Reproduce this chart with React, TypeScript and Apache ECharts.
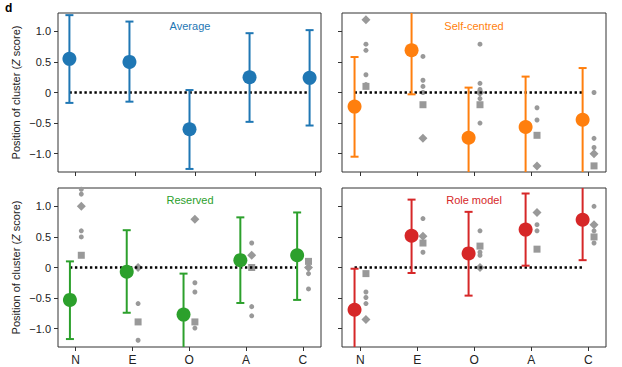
import React, { useEffect, useRef } from "react";
import * as echarts from "echarts";

const categories = ["N", "E", "O", "A", "C"];
const yTicks = [-1, -0.5, 0, 0.5, 1];

// Average
const avgMean = [0.55, 0.5, -0.6, 0.25, 0.24];
const avgLo = [-0.17, -0.15, -1.25, -0.48, -0.54];
const avgHi = [1.265, 1.16, 0.04, 0.97, 1.02];
const avgCircles: number[][] = [];
const avgSquares: number[][] = [];
const avgDiamonds: number[][] = [];

// Self-centred
const selfMean = [-0.23, 0.69, -0.74, -0.565, -0.445];
const selfLo = [-1.05, -0.03, -1.6, -1.6, -1.6];
const selfHi = [0.58, 1.6, 0.08, 0.26, 0.4];
const selfCircles = [
  [0, 0.79], [0, 0.69], [0, 0.29], [0, 0.13],
  [1, 0.59], [1, 0.2], [1, 0.1], [1, 0.0],
  [2, 0.79], [2, 0.15], [2, 0.05], [2, -0.1], [2, -0.5],
  [3, -0.25], [3, -0.45],
  [4, 0.0], [4, -0.75], [4, -0.9],
];
const selfSquares = [[0, 0.1], [1, -0.2], [2, -0.2], [3, -0.7], [4, -1.2]];
const selfDiamonds = [[0, 1.19], [1, -0.75], [2, 0.0], [3, -1.2], [4, -1.0]];

// Reserved
const resMean = [-0.53, -0.07, -0.77, 0.12, 0.2];
const resLo = [-1.17, -0.74, -1.6, -0.58, -0.53];
const resHi = [0.1, 0.61, -0.1, 0.82, 0.9];
const resCircles = [
  [0, 1.28], [0, 1.2], [0, 0.6], [0, 0.5],
  [1, -0.59], [1, -1.19],
  [2, -0.25], [2, -0.4], [2, -0.99],
  [3, 0.4], [3, -0.64], [3, -0.79],
  [4, 0.0], [4, -0.1], [4, -0.35],
];
const resSquares = [[0, 0.2], [1, -0.89], [2, -0.89], [3, 0.0], [4, 0.1]];
const resDiamonds = [[0, 1.0], [1, 0.0], [2, 0.79], [3, 0.2], [4, 0.0]];

// Role model
const roleMean = [-0.69, 0.52, 0.23, 0.62, 0.78];
const roleLo = [-1.6, -0.09, -0.46, 0.03, 0.12];
const roleHi = [-0.02, 1.11, 0.91, 1.21, 1.6];
const roleCircles = [
  [0, -0.4], [0, -0.49], [0, -0.59],
  [1, 0.8], [1, 0.25],
  [2, 0.6], [2, 0.25], [2, 0.2],
  [3, 0.7], [3, 0.6],
  [4, 1.0], [4, 0.6], [4, 0.4],
];
const roleSquares = [[0, -0.1], [1, 0.4], [2, 0.35], [3, 0.3], [4, 0.5]];
const roleDiamonds = [[0, -0.85], [1, 0.51], [2, 0.0], [3, 0.9], [4, 0.7]];

const FONT = "'Liberation Sans', Arial, sans-serif";
const Y_MIN = -1.3;
const Y_MAX = 1.3;
const GREY = "#999999";

const panels = [
  {
    title: "Average", color: "#1f77b4",
    mean: avgMean, lo: avgLo, hi: avgHi,
    circles: avgCircles, squares: avgSquares, diamonds: avgDiamonds,
    grid: { left: 58, top: 13, width: 263, height: 159 },
    xMin: -0.29, xMax: 4.09, showXLabels: false, showYLabels: true,
    tx: 190, ty: 26,
  },
  {
    title: "Self-centred", color: "#ff7f0e",
    mean: selfMean, lo: selfLo, hi: selfHi,
    circles: selfCircles, squares: selfSquares, diamonds: selfDiamonds,
    grid: { left: 342, top: 13, width: 264, height: 159 },
    xMin: -0.32, xMax: 4.31, showXLabels: false, showYLabels: false,
    tx: 474, ty: 26,
  },
  {
    title: "Reserved", color: "#2ca02c",
    mean: resMean, lo: resLo, hi: resHi,
    circles: resCircles, squares: resSquares, diamonds: resDiamonds,
    grid: { left: 58, top: 188, width: 263, height: 159 },
    xMin: -0.31, xMax: 4.32, showXLabels: true, showYLabels: true,
    tx: 190, ty: 200,
  },
  {
    title: "Role model", color: "#d62728",
    mean: roleMean, lo: roleLo, hi: roleHi,
    circles: roleCircles, squares: roleSquares, diamonds: roleDiamonds,
    grid: { left: 342, top: 188, width: 264, height: 159 },
    xMin: -0.32, xMax: 4.31, showXLabels: true, showYLabels: false,
    tx: 474, ty: 200,
  },
];

const MAIN_OFF = -0.1;
const GREY_OFF = 0.1;

function yFmt(v: number) {
  if (Math.abs(v) < 1e-9) return "0";
  return (v < 0 ? "\u2212" : "") + Math.abs(v).toFixed(1);
}

export default function App() {
  const ref = useRef<HTMLDivElement>(null);
  useEffect(() => {
    if (!ref.current) return;
    const chart = echarts.init(ref.current, null, { renderer: "svg" });
    const grids: any[] = [];
    const xAxes: any[] = [];
    const yAxes: any[] = [];
    const series: any[] = [];
    const graphics: any[] = [];

    panels.forEach((p, i) => {
      grids.push({ ...p.grid, show: true, borderColor: "#333", borderWidth: 1, backgroundColor: "transparent" });
      xAxes.push({
        gridIndex: i, type: "value", min: p.xMin, max: p.xMax, position: "bottom",
        splitLine: { show: false }, axisLine: { show: false, onZero: false },
        axisTick: { show: true, inside: false, length: 4, customValues: [0, 1, 2, 3, 4], lineStyle: { color: "#333" } },
        axisLabel: {
          show: p.showXLabels, customValues: [0, 1, 2, 3, 4], margin: 7,
          formatter: (v: number) => categories[Math.round(v)] ?? "",
          color: "#222", fontSize: 12, fontFamily: FONT,
        },
      });
      yAxes.push({
        gridIndex: i, type: "value", min: Y_MIN, max: Y_MAX, position: "left",
        splitLine: { show: false }, axisLine: { show: false, onZero: false },
        axisTick: { show: true, inside: false, length: 4, customValues: yTicks, lineStyle: { color: "#333" } },
        axisLabel: {
          show: p.showYLabels, customValues: yTicks, margin: 7,
          formatter: (v: number) => yFmt(v),
          color: "#222", fontSize: 11, fontFamily: FONT,
        },
        name: p.showYLabels ? "Position of cluster ({i|Z} score)" : "",
        nameLocation: "middle", nameGap: 37,
        nameTextStyle: {
          color: "#222", fontSize: 11, fontFamily: FONT,
          rich: { i: { fontStyle: "italic", fontSize: 11, fontFamily: FONT, color: "#222" } },
        },
      });

      const mk = (arr: number[][], symbol: string, size: number) =>
        arr.map((d) => ({ value: [d[0] + GREY_OFF, d[1]], symbol, symbolSize: size }));

      series.push({
        type: "scatter", xAxisIndex: i, yAxisIndex: i, z: 2,
        data: [
          ...mk(p.circles, "circle", 5),
          ...mk(p.squares, "rect", 7),
          ...mk(p.diamonds, "diamond", 9),
        ],
        itemStyle: { color: GREY, opacity: 1 },
        silent: true,
      });

      series.push({
        type: "line", xAxisIndex: i, yAxisIndex: i, z: 3,
        data: [[MAIN_OFF, 0], [4 + MAIN_OFF, 0]],
        symbol: "none",
        lineStyle: { color: "#000", width: 2.4, type: [2.4, 2.6], cap: "butt" },
        silent: true,
      });

      const color = p.color;
      series.push({
        type: "custom", xAxisIndex: i, yAxisIndex: i, z: 4,
        data: p.mean.map((_, k) => [k + MAIN_OFF, p.lo[k], p.hi[k]]),
        renderItem: (params: any, api: any) => {
          const x = api.value(0);
          const lo = api.value(1);
          const hi = api.value(2);
          const loC = Math.max(lo, Y_MIN);
          const hiC = Math.min(hi, Y_MAX);
          const pLo = api.coord([x, loC]);
          const pHi = api.coord([x, hiC]);
          const w = 4;
          const st = { stroke: color, lineWidth: 2 };
          const children: any[] = [
            { type: "line", shape: { x1: pLo[0], y1: pLo[1], x2: pHi[0], y2: pHi[1] }, style: st },
          ];
          if (lo >= Y_MIN) children.push({ type: "line", shape: { x1: pLo[0] - w, y1: pLo[1], x2: pLo[0] + w, y2: pLo[1] }, style: st });
          if (hi <= Y_MAX) children.push({ type: "line", shape: { x1: pHi[0] - w, y1: pHi[1], x2: pHi[0] + w, y2: pHi[1] }, style: st });
          return { type: "group", children };
        },
        silent: true,
      });

      series.push({
        type: "scatter", xAxisIndex: i, yAxisIndex: i, z: 5,
        data: p.mean.map((m, k) => [k + MAIN_OFF, m]),
        symbol: "circle", symbolSize: 14,
        itemStyle: { color, opacity: 1 },
        silent: true,
      });

      graphics.push({
        type: "text", x: p.tx, y: p.ty,
        style: { text: p.title, fill: color, font: `11px ${FONT}`, textAlign: "center", textVerticalAlign: "middle" },
      });
    });

    graphics.push({
      type: "text", x: 5, y: 8,
      style: { text: "d", fill: "#000", font: `bold 12px ${FONT}`, textAlign: "left", textVerticalAlign: "middle" },
    });

    chart.setOption({
      animation: false,
      grid: grids,
      xAxis: xAxes,
      yAxis: yAxes,
      series,
      graphic: graphics,
    });
    return () => chart.dispose();
  }, []);

  return (
    <div
      ref={ref}
      style={{ position: "fixed", left: 0, top: 0, width: 622, height: 367, background: "#fff" }}
    />
  );
}
